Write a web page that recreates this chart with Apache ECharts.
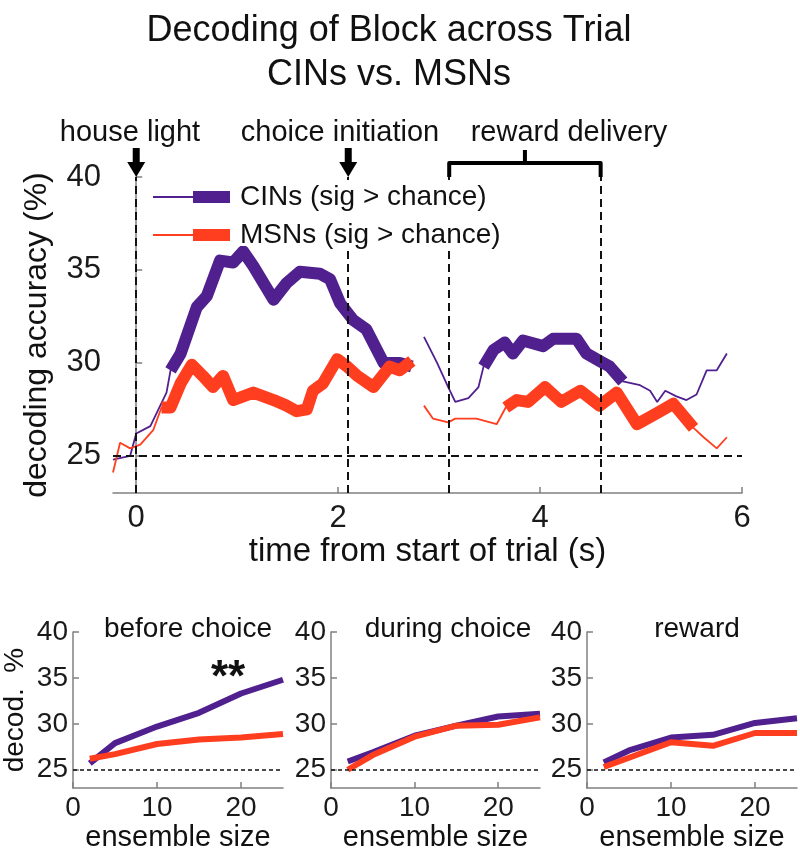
<!DOCTYPE html>
<html><head><meta charset="utf-8">
<script src="https://cdn.jsdelivr.net/npm/echarts@6/dist/echarts.min.js"></script>
<style>html,body{margin:0;padding:0;background:#fff}#c{width:800px;height:853px}</style>
</head><body><div id="c"></div>
<script>
// ---- main panel data (time in s, decoding accuracy in %) ----
const timeCIN = [-0.23,-0.06,0,0.14,0.30,0.34,0.44,0.60,0.70,0.83,0.96,1.06,1.16,1.36,1.49,1.62,1.82,1.92,2.02,2.15,2.28,2.45,2.61,2.73,2.79,2.85,2.98,3.09,3.16,3.29,3.39,3.44,3.54,3.65,3.73,3.83,4.03,4.13,4.36,4.46,4.59,4.69,4.82,4.99,5.09,5.16,5.24,5.35,5.45,5.55,5.65,5.75,5.85];
const accCIN = [24.8,25.0,26.2,26.6,28.4,29.6,30.5,33.0,33.6,35.5,35.4,36.0,35.2,33.4,34.3,34.9,34.8,34.5,33.2,32.3,31.8,30.0,30.0,29.8,null,31.4,30.0,28.7,27.9,28.1,28.7,29.8,30.7,31.1,30.5,31.2,30.9,31.3,31.3,30.5,30.1,29.8,29.0,28.8,28.5,27.9,28.5,28.2,28.0,28.3,29.6,29.6,30.5];
const sigCIN = [[0.34,2.73],[3.44,4.82]];

const timeMSN = [-0.23,-0.16,-0.06,0.04,0.17,0.25,0.34,0.44,0.55,0.66,0.76,0.86,0.96,1.16,1.36,1.49,1.59,1.69,1.75,1.85,1.99,2.09,2.19,2.35,2.51,2.61,2.73,2.79,2.85,2.94,3.09,3.16,3.37,3.57,3.66,3.77,3.88,4.05,4.21,4.40,4.59,4.76,4.96,5.16,5.32,5.52,5.62,5.75,5.85];
const accMSN = [24.1,25.7,25.4,25.6,26.4,27.6,27.6,28.9,29.9,29.3,28.7,29.3,28.0,28.4,28.0,27.7,27.4,27.5,28.5,28.9,30.2,29.8,29.3,28.7,29.8,29.6,30.1,null,27.7,27.0,26.8,27.0,27.0,26.7,27.6,28.0,27.9,28.7,27.9,28.5,27.7,28.4,26.7,27.3,27.8,26.5,26.0,25.4,26.0];
const sigMSN = [[0.25,2.73],[3.66,5.52]];

const chanceLevel = 25;
const houseLightTime = 0;
const choiceTime = 2.1;
const rewardWindow = [3.1, 4.6];

const mainXTicks = [0,2,4,6];
const mainYTicks = [25,30,35,40];

// ---- ensemble-size panels ----
const ensembleSizes = [2,5,10,15,20,25];
const beforeCIN = [25.7,27.9,29.7,31.2,33.3,34.8];
const beforeMSN = [26.2,26.7,27.8,28.3,28.5,28.9];
const duringCIN = [25.9,26.9,28.7,29.8,30.8,31.1];
const duringMSN = [25.0,26.6,28.6,29.8,29.9,30.7];
const rewardCIN = [25.8,27.1,28.5,28.8,30.1,30.6];
const rewardMSN = [25.3,26.3,28.0,27.6,29.0,29.0];
const smallXTicks = [0,10,20];
const smallYTicks = [25,30,35,40];
const panelTitles = ['before choice','during choice','reward'];

const PURPLE = '#51208f';
const RED = '#ff3d1f';
const FONT = 'Liberation Sans, Arial, Helvetica, sans-serif';
const AX = '#808080';

function thinData(t, v){ return t.map((x,i)=>[x, v[i]==null?'-':v[i]]); }
function inSig(x, sig){ return sig.some(w=>x>=w[0]-1e-9 && x<=w[1]+1e-9); }
function thickData(t, v, sig){ return t.map((x,i)=>[x, (v[i]==null||!inSig(x,sig))?'-':v[i]]); }
function pairs(xs, ys){ return xs.map((x,i)=>[x, ys[i]]); }

const chart = echarts.init(document.getElementById('c'), null, {renderer:'canvas'});

const grids = [
  {left:113, top:177, width:629, height:316},
  {left:73, top:632, width:210, height:158},
  {left:331, top:632, width:209, height:158},
  {left:587, top:632, width:210, height:158}
];

const axisLine = {show:true, lineStyle:{color:AX, width:1.5}};
const axisTick = (vals)=>({show:true, inside:true, length:6, lineStyle:{color:AX, width:1.5}, customValues:vals});

const xAxes = [{
  type:'value', gridIndex:0, min:-0.23, max:6,
  axisLine, axisTick:axisTick(mainXTicks),
  axisLabel:{customValues:mainXTicks, fontSize:31, color:'#1a1a1a', margin:10, fontFamily:FONT},
  splitLine:{show:false},
  name:'time from start of trial (s)', nameLocation:'middle', nameGap:42,
  nameTextStyle:{fontSize:33, color:'#111', fontFamily:FONT}
}];
const yAxes = [{
  type:'value', gridIndex:0, min:23, max:40,
  axisLine, axisTick:axisTick(mainYTicks),
  axisLabel:{customValues:mainYTicks, fontSize:31, color:'#1a1a1a', margin:12, fontFamily:FONT},
  splitLine:{show:false},
  name:'decoding accuracy (%)', nameLocation:'middle', nameGap:60, nameRotate:90,
  nameTextStyle:{fontSize:32, color:'#111', fontFamily:FONT}
}];
for (let k=1;k<=3;k++){
  xAxes.push({
    type:'value', gridIndex:k, min:0, max:25,
    axisLine, axisTick:axisTick(smallXTicks),
    axisLabel:{customValues:smallXTicks, fontSize:28, color:'#1a1a1a', margin:6, fontFamily:FONT},
    splitLine:{show:false},
    name:'ensemble size', nameLocation:'middle', nameGap:30,
    nameTextStyle:{fontSize:29, color:'#111', fontFamily:FONT}
  });
  yAxes.push({
    type:'value', gridIndex:k, min:23, max:40,
    axisLine, axisTick:axisTick(smallYTicks),
    axisLabel:{customValues:smallYTicks, fontSize:28, color:'#1a1a1a', margin:5, fontFamily:FONT},
    splitLine:{show:false},
    name: k===1 ? 'decod.  %' : '', nameLocation:'middle', nameGap:44, nameRotate:90,
    nameTextStyle:{fontSize:28, color:'#111', fontFamily:FONT}
  });
}

const dashMain = {type:[8,5], color:'#111', width:2};
const series = [
  {type:'line', xAxisIndex:0, yAxisIndex:0, data:thinData(timeCIN, accCIN), showSymbol:false,
   lineStyle:{color:PURPLE, width:1.8}, z:2,
   markLine:{silent:true, symbol:'none', label:{show:false}, lineStyle:dashMain, animation:false,
     data:[{yAxis:chanceLevel},{xAxis:houseLightTime},{xAxis:choiceTime},{xAxis:rewardWindow[0]},{xAxis:rewardWindow[1]}]}},
  {type:'line', xAxisIndex:0, yAxisIndex:0, data:thinData(timeMSN, accMSN), showSymbol:false,
   lineStyle:{color:RED, width:1.8}, z:2},
  {type:'line', xAxisIndex:0, yAxisIndex:0, data:thickData(timeCIN, accCIN, sigCIN), showSymbol:false,
   lineStyle:{color:PURPLE, width:12, join:'round', cap:'butt'}, z:3},
  {type:'line', xAxisIndex:0, yAxisIndex:0, data:thickData(timeMSN, accMSN, sigMSN), showSymbol:false,
   lineStyle:{color:RED, width:12, join:'round', cap:'butt'}, z:3}
];
const panelData = [[beforeCIN,beforeMSN],[duringCIN,duringMSN],[rewardCIN,rewardMSN]];
panelData.forEach((pd,i)=>{
  series.push({type:'line', xAxisIndex:i+1, yAxisIndex:i+1, data:pairs(ensembleSizes, pd[0]), showSymbol:false,
    lineStyle:{color:PURPLE, width:6, join:'round'}, z:3,
    markLine:{silent:true, symbol:'none', label:{show:false}, animation:false,
      lineStyle:{type:[4,3], color:'#111', width:1.5}, data:[{yAxis:chanceLevel}]}});
  series.push({type:'line', xAxisIndex:i+1, yAxisIndex:i+1, data:pairs(ensembleSizes, pd[1]), showSymbol:false,
    lineStyle:{color:RED, width:6, join:'round'}, z:4});
});

const titles = [
  {text:'Decoding of Block across Trial\nCINs vs. MSNs', left:384, top:4, textAlign:'center',
   textStyle:{fontSize:36, fontWeight:'normal', color:'#111', lineHeight:44, fontFamily:FONT}},
  {text:panelTitles[0], left:183, top:610, textAlign:'center', textStyle:{fontSize:28, fontWeight:'normal', color:'#111', fontFamily:FONT}},
  {text:panelTitles[1], left:443, top:610, textAlign:'center', textStyle:{fontSize:28, fontWeight:'normal', color:'#111', fontFamily:FONT}},
  {text:panelTitles[2], left:692, top:610, textAlign:'center', textStyle:{fontSize:28, fontWeight:'normal', color:'#111', fontFamily:FONT}}
];

chart.setOption({
  animation:false,
  textStyle:{fontFamily:FONT},
  title:titles,
  grid:grids, xAxis:xAxes, yAxis:yAxes, series
});

// ---- annotations placed via the axes ----
const toPx = (t,v)=>chart.convertToPixel({xAxisIndex:0, yAxisIndex:0},[t,v]);
const g = [];
// legend box (white, hides the dashed lines behind it)
g.push({type:'rect', shape:{x:148,y:180,width:360,height:66}, style:{fill:'#fff'}, z:10, silent:true});
const legendRows = [{c:PURPLE, label:'CINs (sig > chance)', y:197},{c:RED, label:'MSNs (sig > chance)', y:235}];
legendRows.forEach(r=>{
  g.push({type:'line', shape:{x1:153,y1:r.y,x2:194,y2:r.y}, style:{stroke:r.c, lineWidth:2}, z:11});
  g.push({type:'rect', shape:{x:193,y:r.y-6,width:37,height:12}, style:{fill:r.c}, z:11});
  g.push({type:'text', x:240, y:r.y, style:{text:r.label, fontSize:28, fill:'#111', fontFamily:FONT, verticalAlign:'middle'}, z:11});
});
// arrows
[houseLightTime, choiceTime].forEach(t=>{
  const p = toPx(t, 40);
  const tip = p[1];
  g.push({type:'polygon', shape:{points:[[p[0]-9,tip-15],[p[0]+9,tip-15],[p[0],tip]]}, style:{fill:'#000'}, z:11});
  g.push({type:'rect', shape:{x:p[0]-3.5,y:tip-29,width:7,height:15}, style:{fill:'#000'}, z:11});
});
// reward bracket
{
  const a = toPx(rewardWindow[0],40), b = toPx(rewardWindow[1],40);
  const yb = a[1]-14, mid = (a[0]+b[0])/2;
  g.push({type:'polyline', shape:{points:[[a[0],a[1]],[a[0],yb],[b[0],yb],[b[0],b[1]]]}, style:{stroke:'#000', lineWidth:4, fill:null, lineJoin:'round'}, z:11});
  g.push({type:'line', shape:{x1:mid,y1:yb,x2:mid,y2:yb-13}, style:{stroke:'#000', lineWidth:4}, z:11});
}
// event labels
[['house light',130],['choice initiation',340],['reward delivery',569]].forEach(e=>{
  g.push({type:'text', x:e[1], y:133, style:{text:e[0], fontSize:29, fill:'#111', fontFamily:FONT, align:'center', verticalAlign:'middle'}, z:11});
});
// significance stars
g.push({type:'text', x:228, y:679, style:{text:'**', fontSize:44, fontWeight:'bold', fill:'#111', fontFamily:FONT, align:'center', verticalAlign:'middle'}, z:11});

chart.setOption({graphic:g});
</script></body></html>
